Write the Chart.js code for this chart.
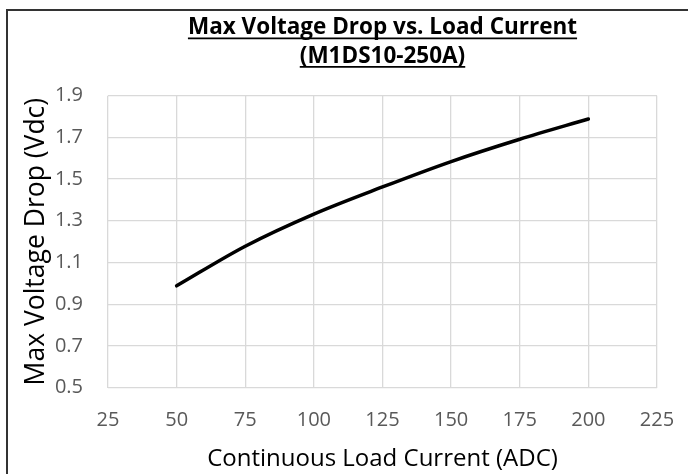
<!DOCTYPE html>
<html>
<head>
<meta charset="utf-8">
<title>Max Voltage Drop vs. Load Current</title>
<script src="https://cdn.jsdelivr.net/npm/chart.js@4.4.1/dist/chart.umd.min.js"></script>
<style>
  html, body { margin: 0; padding: 0; background: #fff; }
  #wrap { position: relative; width: 688px; height: 474px; overflow: hidden; }
  #frame { position: absolute; left: 6px; top: 9px; width: 720px; height: 520px; border: 2px solid #333; pointer-events: none; }
  canvas { position: absolute; left: 0; top: 0; }
</style>
</head>
<body>
<div id="wrap">
  <canvas id="chart" width="688" height="474"></canvas>
  <div id="frame"></div>
</div>
<script>
// Max Voltage Drop vs. Load Current (M1DS10-250A)

const TITLE_LINES = ['Max Voltage Drop vs. Load Current', '(M1DS10-250A)'];
const X_LABEL = 'Continuous Load Current (ADC)';
const Y_LABEL = 'Max Voltage Drop (Vdc)';

// load current (A) vs. max drop (V)
const currents = [50, 75, 100, 125, 150, 175, 200];
const drops = [0.988, 1.178, 1.332, 1.462, 1.584, 1.691, 1.788];

const xTicks = [25, 50, 75, 100, 125, 150, 175, 200, 225];
const yTicks = [0.5, 0.7, 0.9, 1.1, 1.3, 1.5, 1.7, 1.9];

const FONT = '"Open Sans", "Noto Sans", sans-serif';
const TITLE_SIZE = 22.5;
const TITLE_LH = 1.27;
const TITLE_PAD = { top: 13.5, bottom: 25 };

Chart.defaults.font.family = FONT;

// --- Plugins ---

// Chart.js has no underline for titles, so draw one under each line
const underlineTitle = {
    id: 'underlineTitle',
    afterDraw(chart) {
        const tb = chart.titleBlock;
        if (!tb) return;
        const ctx = chart.ctx;
        const lh = TITLE_SIZE * TITLE_LH;
        const cx = (tb.left + tb.right) / 2;
        ctx.save();
        ctx.font = `bold ${TITLE_SIZE}px ${FONT}`;
        ctx.strokeStyle = '#000';
        ctx.lineWidth = 1.8;
        TITLE_LINES.forEach((line, i) => {
            const w = ctx.measureText(line).width;
            const y = tb.top + TITLE_PAD.top + lh * (i + 0.5) + 10.5;
            ctx.beginPath();
            ctx.moveTo(cx - w / 2, y);
            ctx.lineTo(cx + w / 2, y);
            ctx.stroke();
        });
        ctx.restore();
    },
};

// --- Chart ---

const points = currents.map((x, i) => ({ x, y: drops[i] }));

const gridOpts = { color: '#d9d9d9', lineWidth: 1.3, drawTicks: false };
const tickFont = { size: 20 };

new Chart(document.getElementById('chart').getContext('2d'), {
    type: 'line',
    data: {
        datasets: [{
            label: 'Max Voltage Drop',
            data: points,
            borderColor: '#000',
            borderWidth: 3.5,
            borderCapStyle: 'round',
            pointRadius: 0,
            cubicInterpolationMode: 'monotone',
            fill: false,
        }],
    },
    options: {
        responsive: false,
        animation: false,
        layout: { padding: { left: 0, right: 31, top: 0, bottom: 0 } },
        plugins: {
            legend: { display: false },
            tooltip: { enabled: false },
            title: {
                display: true,
                fullSize: false,
                text: TITLE_LINES,
                color: '#000',
                font: { size: TITLE_SIZE, weight: 'bold', lineHeight: TITLE_LH },
                padding: TITLE_PAD,
            },
        },
        scales: {
            x: {
                type: 'linear',
                min: xTicks[0],
                max: xTicks[xTicks.length - 1],
                afterBuildTicks: s => { s.ticks = xTicks.map(v => ({ value: v })); },
                afterFit: s => { s.height = 86.4; s.paddingLeft = 0; s.paddingRight = 0; },
                grid: gridOpts,
                border: { display: false },
                ticks: { padding: 21, color: '#595959', font: tickFont, maxRotation: 0, autoSkip: false },
                title: {
                    display: true,
                    text: X_LABEL,
                    color: '#000',
                    font: { size: 24, lineHeight: 1.2 },
                    padding: { top: 0, bottom: 0 },
                },
            },
            y: {
                min: yTicks[0],
                max: yTicks[yTicks.length - 1],
                afterBuildTicks: s => { s.ticks = yTicks.map(v => ({ value: v })); },
                afterFit: s => { s.width = 108; },
                grid: gridOpts,
                border: { display: false },
                ticks: { padding: 25, color: '#595959', font: tickFont, callback: v => v.toFixed(1) },
                title: {
                    display: true,
                    text: Y_LABEL,
                    color: '#000',
                    font: { size: 26.5, lineHeight: 1.2 },
                    padding: { top: 21, bottom: 0 },
                },
            },
        },
    },
    plugins: [underlineTitle],
});
</script>
</body>
</html>
